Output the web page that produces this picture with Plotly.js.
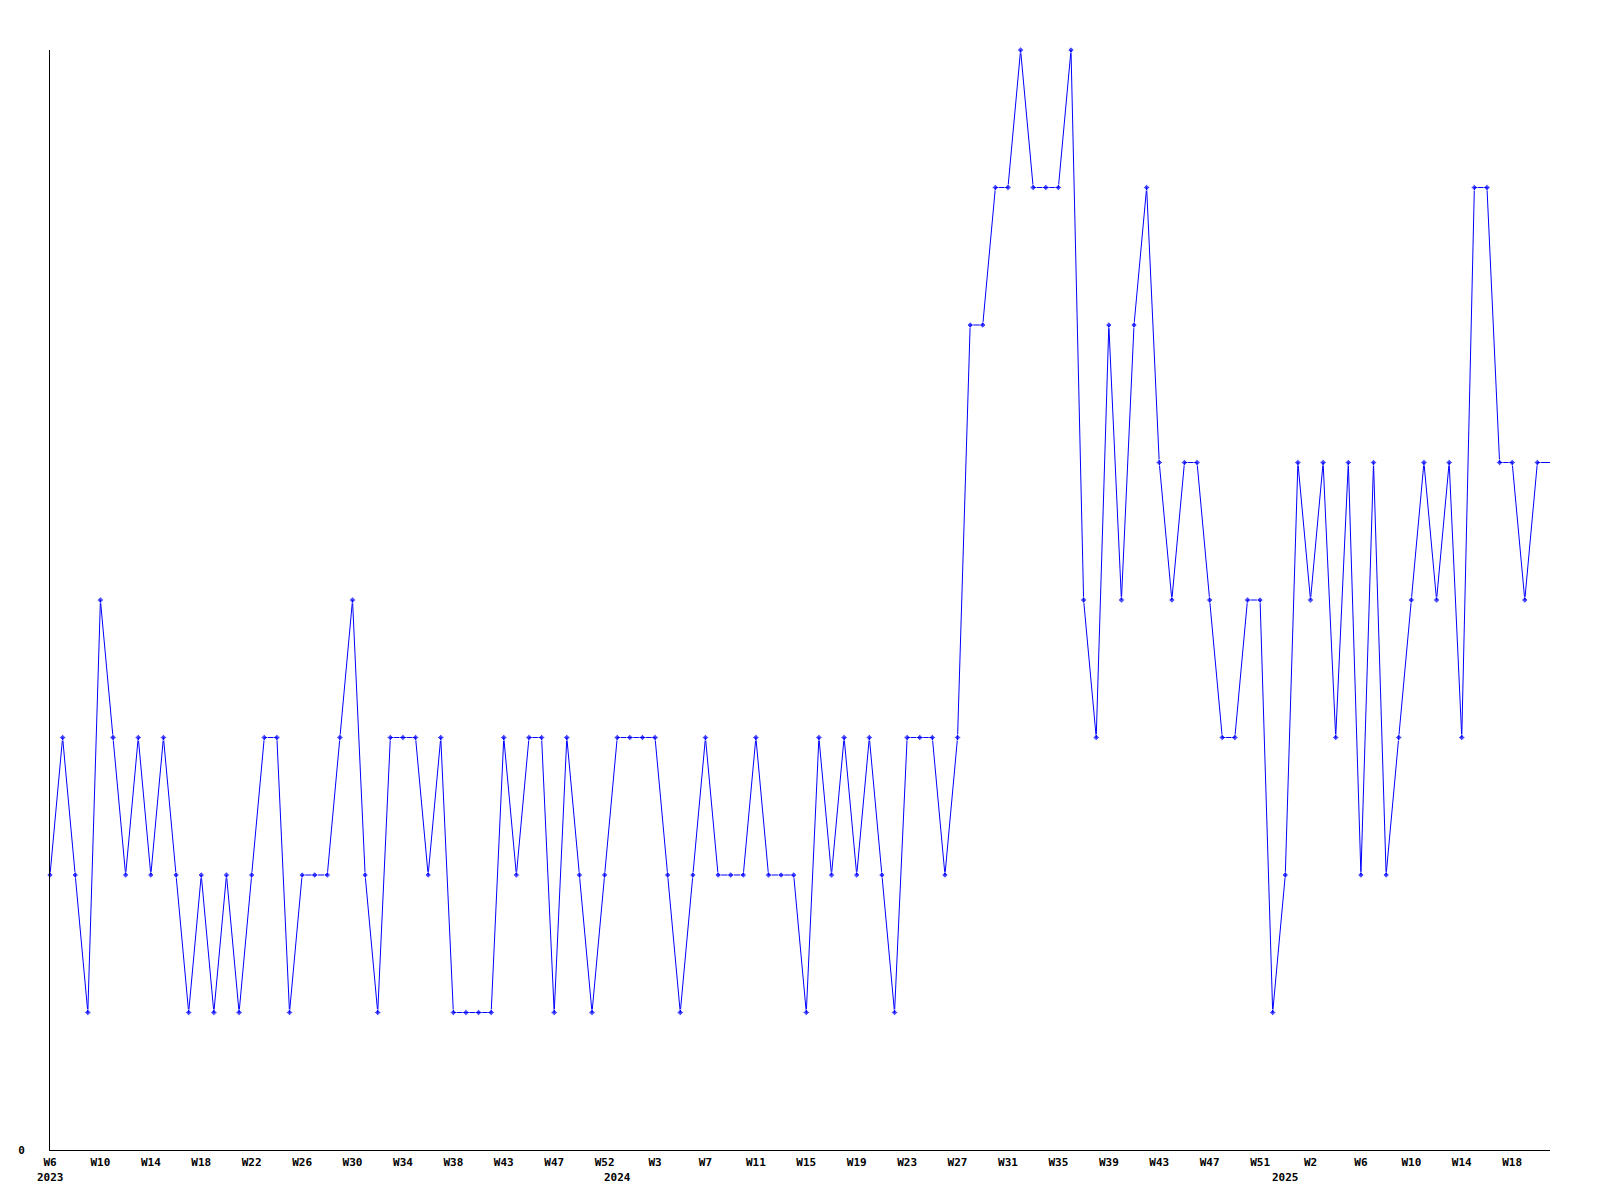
<!DOCTYPE html>
<html>
<head>
<meta charset="utf-8">
<script src="https://cdn.plot.ly/plotly-3.0.1.min.js"></script>
<style>
  html, body { margin: 0; padding: 0; background: #ffffff; }
  #chart { width: 1600px; height: 1200px; }
</style>
</head>
<body>
<div id="chart"></div>
<script>
// Weekly values, one per week, 2023 W6 onward
const values = [
  2,3,2,1,4,3,2,3,2,3,
  2,1,2,1,2,1,2,3,3,1,
  2,2,2,3,4,2,1,3,3,3,
  2,3,1,1,1,1,3,2,3,3,
  1,3,2,1,2,3,3,3,3,2,
  1,2,3,2,2,2,3,2,2,2,
  1,3,2,3,2,3,2,1,3,3,
  3,2,3,6,6,7,7,8,7,7,
  7,8,4,3,6,4,6,7,5,4,
  5,5,4,3,3,4,4,1,2,5,
  4,5,3,5,2,5,2,3,4,5,
  4,5,3,7,7,5,5,4,5,5
];

// Week tick labels (every 4th week point)
const weekLabels = [
  'W6','W10','W14','W18','W22','W26','W30','W34','W38','W43','W47','W52',
  'W3','W7','W11','W15','W19','W23','W27','W31','W35','W39','W43','W47','W51',
  'W2','W6','W10','W14','W18'
];
const tickStep = 4;

// Year labels and the week index where each year label sits
const yearLabels = ['2023','2024','2025'];
const yearIndex = [0, 45, 98];

const yTickVals = [0];
const yTickText = ['0'];

const xs = values.map((v, i) => i);
const tickVals = weekLabels.map((w, i) => i * tickStep);
const markerSizes = values.map((v, i) => (i === values.length - 1 ? 0 : 5));

const fontFam = '"DejaVu Sans Mono", "Liberation Mono", monospace';

const trace = {
  type: 'scatter',
  mode: 'lines+markers',
  x: xs,
  y: values,
  line: { color: '#0000ff', width: 1 },
  marker: { color: '#0000ff', size: markerSizes, symbol: 'diamond' },
  cliponaxis: false,
  hoverinfo: 'x+y'
};

const annotations = yearLabels.map((t, k) => ({
  x: yearIndex[k],
  y: 0,
  xref: 'x',
  yref: 'paper',
  yanchor: 'top',
  xanchor: 'center',
  yshift: -19,
  showarrow: false,
  text: t,
  font: { family: fontFam, size: 11, color: '#000000', weight: 'bold' }
}));

const layout = {
  width: 1600,
  height: 1200,
  margin: { l: 50, r: 50, t: 50, b: 50, pad: 0 },
  paper_bgcolor: '#ffffff',
  plot_bgcolor: '#ffffff',
  showlegend: false,
  xaxis: {
    range: [0, values.length - 1],
    showgrid: false,
    zeroline: false,
    showline: true,
    linecolor: '#000000',
    linewidth: 1,
    ticks: '',
    tickmode: 'array',
    tickvals: tickVals,
    ticktext: weekLabels,
    tickangle: 0,
    ticklabelstandoff: 2,
    tickfont: { family: fontFam, size: 11, color: '#000000', weight: 'bold' },
    fixedrange: true
  },
  yaxis: {
    range: [0, 8],
    showgrid: false,
    zeroline: false,
    showline: true,
    linecolor: '#000000',
    linewidth: 1,
    ticks: '',
    tickmode: 'array',
    tickvals: yTickVals,
    ticktext: yTickText,
    ticklabelstandoff: 22,
    tickfont: { family: fontFam, size: 11, color: '#000000', weight: 'bold' },
    fixedrange: true
  },
  annotations: annotations
};

Plotly.newPlot('chart', [trace], layout, { displayModeBar: false, staticPlot: true });
</script>
</body>
</html>
